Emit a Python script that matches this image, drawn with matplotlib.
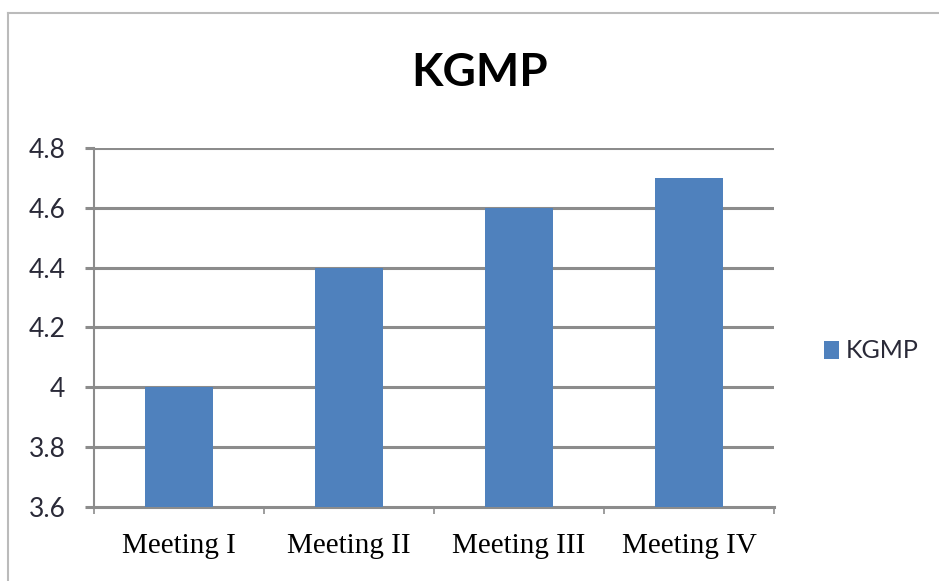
import matplotlib.pyplot as plt
import numpy as np
from matplotlib.lines import Line2D

categories = ['Meeting I', 'Meeting II', 'Meeting III', 'Meeting IV']
values = [4.0, 4.4, 4.6, 4.7]
yticks = [3.6, 3.8, 4.0, 4.2, 4.4, 4.6, 4.8]
ylabels = ['3.6', '3.8', '4', '4.2', '4.4', '4.6', '4.8']

bar_color = '#4F81BD'
grid_color = '#8C8C8C'

fig = plt.figure(figsize=(9.39, 5.81), dpi=100)
ax = fig.add_axes([94 / 939, 1 - 507 / 581, 680 / 939, 359 / 581])

x = np.arange(len(categories))
ax.bar(x, [v - 3.6 for v in values], bottom=3.6, width=0.4, color=bar_color, zorder=3, label='KGMP')

ax.set_xlim(-0.5, len(categories) - 0.5)
ax.set_ylim(3.6, 4.8)
ax.set_yticks(yticks)
ax.set_yticklabels(ylabels, fontfamily='Lato', fontsize=19, color='#2a2a38')
for y in yticks[1:]:
    ax.axhline(y, color=grid_color, lw=2.2, zorder=1)

ax.set_xticks(np.arange(len(categories) + 1) - 0.5)
ax.set_xticklabels([])
ax.set_xticks(x, minor=True)
ax.set_xticklabels(categories, minor=True, fontfamily='Liberation Serif', fontsize=21)
ax.tick_params(axis='x', which='major', length=5, width=1.2, color=grid_color)
ax.tick_params(axis='x', which='minor', length=0, pad=19)
ax.tick_params(axis='y', length=6.5, width=2.2, color=grid_color, pad=14)

for s in ['top', 'right']:
    ax.spines[s].set_visible(False)
ax.spines['left'].set_color(grid_color)
ax.spines['left'].set_linewidth(1.5)
ax.spines['bottom'].set_color(grid_color)
ax.spines['bottom'].set_linewidth(2.2)

fig.text(480 / 939, 1 - 73 / 581, 'KGMP', ha='center', va='center',
         fontfamily='Lato', fontweight='bold', fontsize=33, color='black')

ax.legend(loc='center left', bbox_to_anchor=(801 / 939, 1 - 351 / 581), bbox_transform=fig.transFigure,
          frameon=False, prop={'family': 'Lato', 'size': 18}, handlelength=0.6, handleheight=0.7,
          handletextpad=0.3, labelcolor='#2a2a38')

# outer chart border
fig.add_artist(Line2D([8 / 939, 8 / 939], [0, 1 - 13 / 581], transform=fig.transFigure, color='#BBBBBB', lw=1.5))
fig.add_artist(Line2D([8 / 939, 1], [1 - 13 / 581, 1 - 13 / 581], transform=fig.transFigure, color='#BBBBBB', lw=1.5))

fig.savefig('out.png', dpi=100)
